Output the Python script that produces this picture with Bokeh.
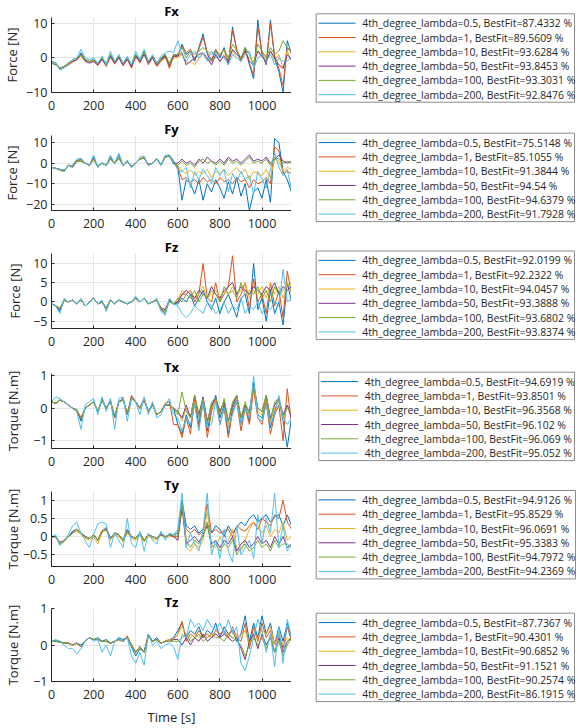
from bokeh.plotting import figure
from bokeh.models import Range1d, FixedTicker
from bokeh.core.properties import value
from bokeh.layouts import column, row
from bokeh.embed import file_html
from bokeh.resources import INLINE

TIME = [0, 20, 40, 60, 80, 100, 120, 140, 160, 180,
        200, 220, 240, 260, 280, 300, 320, 340, 360, 380,
        400, 420, 440, 460, 480, 500, 520, 540, 560, 580,
        600, 620, 640, 660, 680, 700, 720, 740, 760, 780,
        800, 820, 840, 860, 880, 900, 920, 940, 960, 980,
        1000, 1020, 1040, 1060, 1080, 1100, 1120, 1140]

LAMBDAS = ["0.5", "1", "10", "50", "100", "200"]
COLORS = ["#0072BD", "#D95319", "#EDB120", "#7E2F8E", "#77AC30", "#4DBEEE"]
X_TICKS = [0, 200, 400, 600, 800, 1000]

# ---------------- Fx ----------------
FX_FIT = ["87.4332", "89.5609", "93.6284", "93.8453", "93.3031", "92.8476"]
FX_L05 = [-1, -1.5, -3, -2.5, -2, -1, -0.5, 1.5, -0.5, -1,
          -0.5, -2, 0, -2, 1, -1.5, 0.5, -2, 0, -2.5,
          1, -1, 2, -1.5, 0.5, -2, -0.5, 1, -2.5, 1,
          0.5, 4, 1, 2, -1, 3, 7, 1, -1, 2,
          0, 3, -2, 9, 2, -1, 3, -2, -6, 11,
          1, -2, 11, 0, -4, -10, 5, 1]
FX_L1 = [-1, -1.5, -3.2, -2.5, -2, -1.2, -0.5, 1, -0.8, -1.2,
         -0.8, -2.2, -0.3, -2.5, 0.5, -1.8, 0.2, -2.3, -0.3, -3,
         0.5, -1.5, 1.5, -2, 0.2, -2.5, -1, 0.5, -3, 0.5,
         0.5, 3.5, 1.5, 2.5, -0.5, 2.5, 6, 1.5, -0.5, 2.5,
         0.5, 2.5, -1.5, 8, 2.5, -0.5, 2.5, -1.5, -5, 9,
         1.5, -1.5, 10, 0.5, -3, -8, 3, 1.5]
FX_L10 = [-1.5, -2, -3, -2.5, -1.5, -1, -0.5, 0.5, -1, -1,
          -1, -2, -0.5, -2, 0, -1.5, 0, -2, -0.5, -2,
          0, -1, 1, -1.5, 0, -2, -1, 0, -2, 0,
          0, 1, -1.5, -1, -2, 0, 1, -0.5, -1, 0.5,
          -1, 1, -0.5, 2, 0, -1, 1.5, 0, -1, 2,
          0, 1, 2, -1, 1, -3, 2, -1]
FX_L50 = [-1.5, -2, -3, -2.5, -1.5, -1, -0.5, 1, -1, -1.5,
          -1, -2, -0.5, -2, 0.5, -1.5, 0, -2, -0.5, -2.5,
          0.5, -1, 1, -1.5, 0, -2, -0.5, 0.5, -2, 0.5,
          0.5, 1.5, -2, -1, 0, 1, 1.5, 0, -2, 1,
          -1, 0.5, -1, 2.5, 1, 0, 2, -1, -2, 2,
          0.5, -1, 2, 0, -2, -3, 1, -0.5]
FX_L100 = [-1.5, -2, -3, -2.5, -1.5, -0.5, 0, 1, -0.5, -1,
           -0.5, -1.5, 0, -1.5, 1, -1, 0.5, -1.5, 0, -2,
           1, -0.5, 1.5, -1, 0.5, -1.5, 0, 1, -1.5, 1,
           1, 3, 0, 2, 1, 2, 3, 2, 1, 2,
           1, 2.5, 0, 4, 2, 0, 3, 1, -2, 4,
           2, 0, 3, 1, 2, 5, 3, 2]
FX_L200 = [-1, -1.5, -3.5, -3, -2, -0.5, 0, 2.5, 0, -0.5,
           0, -1.5, 0.5, -2, 2, -1, 1, -1.5, 0.5, -2,
           2, -0.5, 2.5, -1, 1, -1.5, 0.5, 1.5, 2, 1.5,
           5, 1, -1, 1, 2, 0, 1.5, -1, 2, 0,
           1, 0, -2, 1, 0, -1, 1, 2, -3, 0,
           1, -1, 1, -2, 0, -1, -1, 0.5]

# ---------------- Fy ----------------
FY_FIT = ["75.5148", "85.1055", "91.3844", "94.54", "94.6379", "91.7928"]
FY_L05 = [-2, -2.5, -3, -4, -1, -2, 1, 2, 0, -1,
          3, -2, 0, -1, 3, 0, 4, -1, 1, -2,
          0, 2, 3, -1, 0, 2, -1, 3, 4, 1,
          -2, -18, -8, -10, -15, -8, -18, -10, -14, -8,
          -12, -17, -9, -15, -7, -16, -10, -23, -14, -12,
          -17, -8, -19, 12, 10, -4, -8, -14]
FY_L1 = [-2, -2.5, -3, -3.5, -1, -1.5, 1.5, 1.5, 0, -1,
         2.5, -1.5, 0, -1, 2.5, 0, 3, -1, 1, -2,
         0, 2, 3, -1, 0, 2, -0.5, 3, 3.5, 0,
         -2, -8, -7, -9, -8, -10, -7, -9, -8, -10,
         -7, -9, -8, -10, -7, -9, -8, -12, -8, -10,
         -9, -7, -10, 8, 6, -5, -4, -5]
FY_L10 = [-2, -2.5, -3, -3.5, -1, -1.5, 1, 1.5, 0, -1,
          2, -1.5, 0, -1, 2.5, 0, 3, -1, 1, -1.5,
          0, 2, 3, -0.5, 0, 2, -0.5, 3, 3.5, 0,
          -1, -4, -5, -3, -6, -4, -5, -3, -7, -4,
          -5, -3, -6, -4, -2, -5, -3, -8, -4, -5,
          -6, -3, -7, 2, 1, -4, -2, -3]
FY_L50 = [-2, -2.5, -3, -3.5, -1, -1.5, 1, 1, 0, -1,
          2, -1.5, 0, -1, 2, 0, 2.5, -1, 1, -1.5,
          0, 2, 2.5, -0.5, 0, 2, -0.5, 3, 3.5, 0,
          0, 2, 0, 1, -1, 2, 0, 3, 1, 0,
          2, 0, 3, 1, 2, 0, 2, 4, 1, 2,
          1, 3, 0, 2, 4, 1, 0, 1]
FY_L100 = [-2, -2.5, -3.5, -4, -1, -1.5, 1, 1, 0, -1,
           2, -1.5, 0, -1, 2, 0, 2.5, -1, 1, -1.5,
           0, 2, 2.5, -0.5, 0, 2, -0.5, 3, 3.5, -0.5,
           -1, 1, -1, 0, -2, 1, 2, 0, 1, -1,
           1, -1, 2, 0, 1, -1, 1, 3, 0, 1,
           0, 2, -1, 3, 2, 0, 1, 0]
FY_L200 = [-2, -2.5, -3, -3.5, -1, -1, 2, 2.5, 0, -1,
           4, -2, 0.5, -1, 4, 0, 5, -1, 1.5, -2,
           0, 3, 3.5, -1, 0, 2.5, -1, 4, 4, 0,
           -3, -4, -2, -12, -4, -8, -3, -6, -10, -2,
           -6, -3, -14, -5, -9, -4, -8, -6, -15, -4,
           -8, -12, -3, 5, -2, -6, -3, -13]

# ---------------- Fz ----------------
FZ_FIT = ["92.0199", "92.2322", "94.0457", "93.3888", "93.6802", "93.8374"]
FZ_L05 = [-0.5, -1, -2.5, 0.5, 0, 0.5, -0.5, 0.5, -1, 0,
          1, -0.5, 0, -2, 0.5, -0.5, 0.5, 0, -0.5, 0,
          1, 0, 1, -0.5, 0, 0.5, -2, -3, 0.5, -0.5,
          -0.5, 1, 0, 2, -1, 1, 3, 0, -2, 1,
          -3, 0, 2, -1, -4, 1, 2, -3, 10, -2,
          1, -5, 3, -3, 0, -6, 5, 0]
FZ_L1 = [-0.5, -1, -2, 0.5, 0, 0.5, -0.5, 0.5, -1, 0,
         1, -0.5, 0, -2, 0.5, -0.5, 0.5, 0, -0.5, 0,
         1, 0, 1, -0.5, 0, 0.5, -2, -2.5, 0.5, -0.5,
         0, 2, 2, 3, 0, 2, 10, 1, 0, 5,
         0, 2, 4, 12, 0, 2, 5, -2, 6, 0,
         2, -3, 5, -1, 3, -4, 8, 2]
FZ_L10 = [-0.5, -1, -2, 0.5, 0, 0.5, -0.5, 0.5, -1, 0,
          1, -0.5, 0, -2, 0.5, -0.5, 0.5, 0, -0.5, 0,
          1, 0, 1, -0.5, 0, 0.5, -1.5, -2.5, 0.5, -0.5,
          0.5, 3, 2, 3, 1, 2, 4, 1, 2, 3,
          1, 3, 2, 4, 2, 3, 5, 1, 3, 2,
          4, 1, 5, 2, 4, 1, 5, 3]
FZ_L50 = [-0.5, -1, -2, 0.5, 0, 0.5, -0.5, 0.5, -1, 0,
          1, -0.5, 0, -1.5, 0.5, -0.5, 0.5, 0, -0.5, 0,
          1, 0, 1, -0.5, 0, 0.5, -1.5, -2, 0.5, -0.5,
          0, 2, 3, 2, 1, 3, 2, 1, 4, 2,
          1, 3, 4, 5, 2, 4, 3, 2, 4, 3,
          2, 4, 3, 5, 2, 4, 3, 4]
FZ_L100 = [-0.5, -1, -1.5, 0.5, 0, 0.5, -0.5, 0.5, -1, 0,
           1, -0.5, 0, -1.5, 0.5, -0.5, 0.5, 0, -0.5, 0,
           1, 0, 1, -0.5, 0, 0.5, -1.5, -2.5, 0, -0.5,
           1, 0, 2, 1, 3, 0, 2, 1, 3, 2,
           0, 4, 2, 3, 1, 5, 2, 3, 2, 4,
           1, 3, 0, 4, 2, 3, 4, 5]
FZ_L200 = [-0.5, -1, -3, 1, 0, 0.5, -0.5, 1, -1, 0,
           1, -0.5, 0.5, -2.5, 0.5, -0.5, 0.5, 0, -0.5, 0,
           1.5, 0, 1, -0.5, 0, 1, -2.5, -3.5, 1, -0.5,
           -1, -3, -4, -3, -1, -2, -3, 0, -1, -3,
           -2, 0, -3, -1, -2, 1, -3, -1, -2, 0,
           -3, -1, -2, 0, -1, 8.5, 0, 1]

# ---------------- Tx ----------------
TX_FIT = ["94.6919", "93.8501", "96.3568", "96.102", "96.069", "95.052"]
TX_L05 = [0.2, 0.15, 0.25, 0.2, 0.1, 0, -0.05, -0.4, 0, 0.1,
          0.2, -0.1, 0.3, 0, 0.25, -0.3, 0.2, 0.3, -0.2, 0.35,
          0.2, 0, 0.3, -0.1, 0.15, -0.2, -0.1, 0.1, 0.1, 0,
          -0.5, -0.8, -0.2, -0.6, 0.2, -0.5, 0.3, -0.7, 0, 0.4,
          -0.3, 0.1, -0.8, 0, 0.3, -0.5, 0.1, -0.4, 0.8, -0.2,
          -0.3, 0.3, -0.6, -0.1, 0.3, -0.4, -1.2, -0.3]
TX_L1 = [0.2, 0.15, 0.25, 0.2, 0.1, 0, -0.1, -0.35, 0, 0.1,
         0.2, -0.1, 0.25, 0, 0.25, -0.3, 0.2, 0.3, -0.2, 0.4,
         0.2, 0, 0.3, -0.1, 0.1, -0.2, -0.1, 0.15, 0.2, -0.5,
         -0.5, -0.9, -0.3, -0.8, 0.3, -0.6, 0.2, -0.9, -0.1, 0.3,
         -0.5, 0, -0.9, -0.1, 0.2, -0.7, 0, -0.5, 0.6, -0.3,
         -0.5, 0.2, -0.8, -0.2, 0.1, -1, 0.6, -0.5]
TX_L10 = [0.2, 0.15, 0.25, 0.2, 0.1, 0, -0.05, -0.3, 0, 0.1,
          0.2, -0.1, 0.25, 0, 0.2, -0.25, 0.2, 0.25, -0.15, 0.3,
          0.2, 0, 0.25, -0.1, 0.1, -0.2, -0.1, 0.1, 0.1, 0,
          -0.1, -0.4, 0, -0.3, 0.2, -0.2, 0.3, -0.4, 0, 0.3,
          -0.1, 0.2, -0.5, 0.1, 0.3, -0.3, 0.1, -0.2, 0.7, -0.1,
          -0.2, 0.3, -0.4, 0, 0.2, -0.3, 0.1, -0.2]
TX_L50 = [0.2, 0.15, 0.25, 0.2, 0.1, 0, -0.05, -0.3, 0, 0.1,
          0.2, -0.1, 0.25, 0, 0.2, -0.25, 0.2, 0.25, -0.15, 0.3,
          0.2, 0, 0.25, -0.1, 0.1, -0.2, -0.1, 0.1, 0.1, 0,
          -0.1, -0.3, 0.1, -0.3, 0.4, -0.2, 0.35, -0.4, 0.1, 0.3,
          -0.1, 0.2, -0.4, 0.1, 0.4, -0.3, 0.1, -0.1, 0.75, 0,
          -0.1, 0.4, -0.3, 0.1, 0.3, -0.2, 0.1, -0.3]
TX_L100 = [0.2, 0.15, 0.25, 0.2, 0.1, 0, -0.05, -0.3, 0, 0.1,
           0.2, -0.1, 0.25, 0, 0.2, -0.25, 0.2, 0.25, -0.15, 0.3,
           0.2, 0, 0.25, -0.1, 0.1, -0.2, -0.1, 0.1, 0.1, 0,
           -0.2, 0.5, -0.1, -0.3, 0.4, -0.3, 0.3, -0.5, 0.2, 0.3,
           -0.2, 0.3, -0.4, 0.2, 0.4, -0.3, 0.2, -0.2, 0.7, 0,
           -0.1, 0.4, -0.4, 0.2, 0.3, -0.3, 0, -0.1]
TX_L200 = [0.2, 0.35, 0.3, 0.2, 0.1, 0, -0.1, -0.65, 0.1, 0.2,
           0.3, -0.2, 0.35, -0.1, 0.3, -0.65, 0.3, 0.35, -0.4, 0.3,
           0.2, -0.2, 0.35, -0.2, 0.2, -0.3, -0.2, 0.1, 0.3, -0.2,
           -0.3, -0.7, -0.3, -0.5, 0.1, -0.7, 0.2, -0.6, -0.5, 0.2,
           -0.5, 0, -0.6, -0.2, 0.2, -0.5, 0, -0.3, 1, -0.3,
           -0.4, 0.1, -0.5, -0.2, 0.4, -0.3, -0.5, -0.3]

# ---------------- Ty ----------------
TY_FIT = ["94.9126", "95.8529", "96.0691", "95.3383", "94.7972", "94.2369"]
TY_L05 = [0, 0, -0.2, -0.1, 0, 0.15, 0.2, 0.1, 0, -0.05,
          0.05, -0.1, 0.15, 0.25, -0.05, 0.1, 0.05, -0.1, 0.2, 0,
          -0.05, 0.1, -0.1, 0.05, 0, -0.05, 0.1, 0, 0.05, 0.05,
          0.1, 1, 0.3, 0.2, 0.3, 0.1, 0.2, 0.35, 0.1, 0.3,
          0.2, 0, 0.3, 0.1, 0.25, 0.4, 0.3, 0.5, 0.6, 0.4,
          0.5, 0.6, 0.4, 0.55, 0.6, 0.3, 0.6, 0.3]
TY_L1 = [0, 0, -0.15, -0.1, 0, 0.1, 0.2, 0.1, 0, -0.05,
         0.05, -0.1, 0.15, 0.2, -0.05, 0.1, 0.05, -0.1, 0.15, 0,
         -0.05, 0.1, -0.1, 0.05, 0, -0.05, 0.05, 0, 0.05, 0,
         0, 0.8, 0.2, 0.1, 0.2, 0.05, 0.15, 0.9, 0.1, 0.2,
         0.1, 0.15, 0.2, 0, 0.3, 0.2, 0.15, 0.3, 0.4, 0.2,
         0.5, 0.4, 0.3, 0.6, 0.5, 1, 0.4, 0.2]
TY_L10 = [0, 0, -0.2, -0.15, 0, 0.1, 0.15, 0.05, -0.05, -0.1,
          0, -0.2, 0.1, 0.2, -0.1, 0.05, 0, -0.15, 0.1, -0.05,
          -0.1, 0.05, -0.15, 0, -0.05, -0.1, 0.05, -0.05, 0, 0,
          -0.1, 0.9, -0.3, -0.4, -0.2, -0.3, -0.1, 0.7, -0.2, -0.3,
          0, -0.2, -0.1, 0.2, -0.3, -0.4, -0.1, 0.2, 0.4, 0.3,
          0.1, 0.3, 0, 0.2, 0.1, 0.4, -0.1, 0]
TY_L50 = [0, 0, -0.2, -0.1, 0, 0.1, 0.2, 0.1, 0, -0.05,
          0.05, -0.1, 0.15, 0.2, -0.05, 0.1, 0.05, -0.1, 0.15, 0,
          -0.05, 0.1, -0.1, 0.05, 0, -0.05, 0.05, 0, 0.05, 0,
          -0.1, 0.8, -0.2, -0.1, 0, -0.15, 0.05, 0.3, -0.2, -0.1,
          -0.3, -0.1, -0.2, 0, -0.4, -0.2, -0.1, -0.3, -0.2, 0,
          -0.2, -0.1, -0.3, 0, -0.2, 0, -0.3, -0.2]
TY_L100 = [0, 0, -0.2, -0.1, 0, 0.1, 0.2, 0.1, 0, -0.05,
           0.05, -0.1, 0.15, 0.2, -0.05, 0.1, 0.05, -0.1, 0.15, 0,
           -0.05, 0.1, -0.1, 0.05, 0, -0.05, 0.1, 0, 0.05, 0.05,
           0, 0.9, -0.1, -0.3, -0.1, -0.2, 0, 0.4, -0.3, -0.2,
           -0.4, -0.2, -0.3, -0.1, -0.5, -0.3, -0.2, -0.4, -0.3, -0.1,
           -0.3, -0.2, -0.4, -0.1, -0.3, -0.2, -0.2, -0.3]
TY_L200 = [0, 0.05, -0.25, -0.1, 0.05, 0.3, 0.4, 0.1, -0.1, -0.3,
           0.05, 0.35, 0.4, 0.35, -0.3, 0.1, -0.1, -0.3, 0.5, -0.2,
           -0.3, 0.15, -0.4, 0.1, -0.1, -0.2, 0.15, -0.1, 0.1, 0.05,
           0.2, 1.2, -0.3, 0.1, -0.2, -0.4, 0.2, 1.2, -0.5, -0.1,
           -0.6, 0.2, -0.4, -0.7, 0.3, -0.5, -0.3, -0.1, -0.6, 0.6,
           -0.2, 0.5, 0.1, 1.2, -0.3, 0.3, -0.4, -0.2]

# ---------------- Tz ----------------
TZ_FIT = ["87.7367", "90.4301", "90.6852", "91.1521", "90.2574", "86.1915"]
TZ_L05 = [0.1, 0.12, 0.1, 0.05, 0.05, 0, 0.05, 0, 0.1, 0.2,
          0.15, 0.2, 0.1, 0.15, 0.05, 0.1, 0.2, 0.15, 0.2, -0.05,
          -0.3, -0.1, -0.2, 0.3, 0.1, 0.2, 0.05, 0.1, 0.15, 0.2,
          0.4, 0.6, 0.2, 0.4, 0.3, 0.5, 0.2, 0.4, 0.3, 0.6,
          0.2, 0.5, 0.3, 0.4, 0.1, 0.3, 0.8, 0.1, 0.6, 0.2,
          0.8, 0.3, 0.6, 0, 0.5, 0.1, 0.6, 0.2]
TZ_L1 = [0.1, 0.1, 0.08, 0.05, 0.05, 0, 0.05, -0.05, 0.1, 0.2,
         0.15, 0.15, 0.1, 0.1, 0.05, 0.1, 0.15, 0.1, 0.25, 0,
         -0.2, -0.05, -0.2, 0.25, 0.1, 0.15, 0.05, 0.1, 0.15, 0.15,
         0.3, 0.65, 0.1, 0.3, 0.2, 0.4, 0.2, 0.3, 0.2, 0.4,
         0.3, 0.4, 0.2, 0.5, 0.2, 0.1, 0.6, -0.1, 0.5, 0.1,
         0.6, 0.2, 0.4, 0, 0.3, -0.1, 0.5, 0.1]
TZ_L10 = [0.1, 0.1, 0.08, 0.05, 0.05, 0, 0.05, -0.05, 0.1, 0.2,
          0.15, 0.15, 0.1, 0.1, 0.05, 0.1, 0.15, 0.1, 0.2, 0,
          -0.2, -0.05, -0.2, 0.25, 0.1, 0.15, 0.05, 0.1, 0.15, 0.15,
          0.3, 0.5, 0.3, 0.2, 0.3, 0.2, 0.3, 0.2, 0.3, 0.3,
          0.2, 0.3, 0.3, 0.2, 0.3, 0.2, 0.4, 0, 0.3, 0.2,
          0.4, 0.3, 0.5, 0, 0.3, 0, 0.2, 0.1]
TZ_L50 = [0.1, 0.1, 0.08, 0.05, 0.05, 0, 0.05, -0.05, 0.1, 0.2,
          0.15, 0.15, 0.1, 0.1, 0.05, 0.1, 0.15, 0.1, 0.2, 0,
          -0.2, -0.05, -0.2, 0.25, 0.1, 0.15, 0.05, 0.1, 0.1, 0.15,
          0.15, 0, 0.2, 0, 0.2, 0.1, 0.3, 0.1, 0.2, 0.3,
          0.2, 0.3, 0.2, 0.1, 0.2, -0.1, -0.4, 0.1, 0.3, -0.1,
          0.3, 0, 0.2, -0.2, 0.2, -0.2, 0.1, 0.2]
TZ_L100 = [0.1, 0.1, 0.08, 0.05, 0.05, 0, 0.05, -0.05, 0.1, 0.2,
           0.15, 0.15, 0.1, 0.1, 0.05, 0.1, 0.15, 0.1, 0.2, 0,
           -0.2, -0.05, -0.2, 0.25, 0.1, 0.15, 0.05, 0.1, 0.1, 0.1,
           0.1, 0.2, 0.3, 0.1, 0.2, 0.3, 0.1, 0.2, 0.3, 0.2,
           0.2, 0.1, 0.3, 0.2, 0.1, 0, -0.3, 0, 0.2, 0,
           0.2, -0.1, 0.3, -0.2, 0.1, -0.3, 0, 0.2]
TZ_L200 = [0.1, 0.15, 0.1, 0, -0.1, -0.1, -0.25, -0.1, 0.1, 0.2,
           0.1, 0.15, -0.2, 0, -0.3, 0.1, 0.2, 0.1, 0.2, -0.3,
           -0.5, -0.2, -0.55, 0.3, 0, 0.1, -0.1, 0, 0.05, -0.05,
           -0.4, 0.3, 0.2, 0.7, 0.5, 0.6, 0.4, 0.7, 0.5, 0.4,
           0.6, 0.3, 0.7, 0.3, 0.5, -0.5, -0.7, -0.3, 0.2, 0.7,
           0.4, -0.2, 0.3, -0.6, 0.5, -0.5, 0.7, 0.2]

# layout constants (pixels): legend box left / top / right inside the legend strip
PANELS = [
    dict(title="Fx", ylabel="Force [N]", yr=(-10, 11.7), yt=[-10, 0, 10], h=118, top=17, ls=2,
         series=[FX_L05, FX_L1, FX_L10, FX_L50, FX_L100, FX_L200], fits=FX_FIT, box=(24.7, 13.3, 283)),
    dict(title="Fy", ylabel="Force [N]", yr=(-23, 13.5), yt=[-20, -10, 0, 10], h=118, top=17, ls=2,
         series=[FY_L05, FY_L1, FY_L10, FY_L50, FY_L100, FY_L200], fits=FY_FIT, box=(24.7, 132.7, 283)),
    dict(title="Fz", ylabel="Force [N]", yr=(-6.9, 12.6), yt=[-5, 0, 5, 10], h=119, top=17, ls=6,
         series=[FZ_L05, FZ_L1, FZ_L10, FZ_L50, FZ_L100, FZ_L200], fits=FZ_FIT, box=(24.7, 250.5, 283)),
    dict(title="Tx", ylabel="Torque [N.m]", yr=(-1.24, 1.07), yt=[-1, 0, 1], h=118, top=18, ls=8,
         series=[TX_L05, TX_L1, TX_L10, TX_L50, TX_L100, TX_L200], fits=TX_FIT, box=(27.3, 371.7, 283)),
    dict(title="Ty", ylabel="Torque [N.m]", yr=(-0.82, 1.24), yt=[-0.5, 0, 0.5, 1], h=118, top=18, ls=-2,
         series=[TY_L05, TY_L1, TY_L10, TY_L50, TY_L100, TY_L200], fits=TY_FIT, box=(24.7, 490, 284)),
    dict(title="Tz", ylabel="Torque [N.m]", yr=(-1, 1), yt=[-1, 0, 1], h=137, top=17, ls=8,
         series=[TZ_L05, TZ_L1, TZ_L10, TZ_L50, TZ_L100, TZ_L200], fits=TZ_FIT, box=(24.7, 612.7, 283)),
]

FONT = "Open Sans"
TXT = "#262626"
FRAME_H = 75
TOTAL_H = 728
STRIP_W = 287
ROW_H = 14.3
BOX_H = 88.4

# one tall strip on the right that holds the six legends (pixel coordinates, y downwards)
lp = figure(width=STRIP_W, height=TOTAL_H, x_range=Range1d(0, STRIP_W), y_range=Range1d(TOTAL_H, 0),
            output_backend="svg", toolbar_location=None,
            x_axis_type=None, y_axis_type=None,
            min_border_left=0, min_border_right=0, min_border_top=0, min_border_bottom=0)
lp.outline_line_color = None
lp.grid.visible = False
lp.background_fill_color = "white"
lp.border_fill_color = "white"

plots = []
for i, pn in enumerate(PANELS):
    last = i == len(PANELS) - 1
    h = pn["h"]
    p = figure(width=291, height=h, x_range=Range1d(0, 1140),
               y_range=Range1d(*pn["yr"]), output_backend="svg",
               toolbar_location=None, min_border_left=50, min_border_right=0,
               min_border_top=pn["top"], min_border_bottom=(h - pn["top"] - FRAME_H))
    p.outline_line_color = None
    p.background_fill_color = "white"
    p.border_fill_color = "white"
    for s, c in zip(pn["series"], COLORS):
        p.line(TIME, s, line_color=c, line_width=1)
    p.title.text = pn["title"]
    p.title.align = "center"
    p.title.text_font = FONT
    p.title.text_font_style = "bold"
    p.title.text_font_size = "13px"
    p.title.text_color = "black"
    p.title.standoff = -4
    p.title.offset = 0
    p.xaxis.ticker = FixedTicker(ticks=X_TICKS)
    p.yaxis.ticker = FixedTicker(ticks=pn["yt"])
    for ax in (p.xaxis, p.yaxis):
        ax.axis_line_color = TXT
        ax.major_tick_line_color = TXT
        ax.major_tick_in = 3
        ax.major_tick_out = 0
        ax.minor_tick_line_color = None
        ax.major_label_text_font = FONT
        ax.major_label_text_font_size = "12.5px"
        ax.major_label_text_color = TXT
        ax.axis_label_text_font = FONT
        ax.axis_label_text_font_size = "13px"
        ax.axis_label_text_font_style = "normal"
        ax.axis_label_text_color = TXT
    p.yaxis.axis_label = pn["ylabel"]
    p.yaxis.axis_label_standoff = pn["ls"]
    p.yaxis.major_label_standoff = 4
    p.xaxis.major_label_standoff = 8
    if last:
        p.xaxis.axis_label = "Time [s]"
        p.xaxis.axis_label_standoff = 6
    p.grid.grid_line_color = "#e6e6e6"
    p.grid.grid_line_width = 1
    plots.append(p)

    # legend for this panel
    bl, bt, br = pn["box"]
    lp.quad(left=[bl], right=[br], top=[bt], bottom=[bt + BOX_H],
            fill_color="white", line_color="#8c8c8c", line_width=1)
    ys = [bt + 9.4 + ROW_H * k for k in range(len(LAMBDAS))]
    labels = ["4th_degree_lambda=%s, BestFit=%s %%" % (lam, fit) for lam, fit in zip(LAMBDAS, pn["fits"])]
    lp.segment(x0=[bl + 2.3] * len(ys), x1=[bl + 39.3] * len(ys), y0=ys, y1=ys,
               line_color=COLORS, line_width=1)
    lp.text(x=[bl + 46] * len(ys), y=ys, text=labels, text_font=value(FONT),
            text_font_size="10.4px", text_color=TXT, text_baseline="middle", text_align="left")

layout = row(column(*plots, spacing=0), lp, spacing=0)
open("out.html", "w").write(file_html(layout, INLINE))
